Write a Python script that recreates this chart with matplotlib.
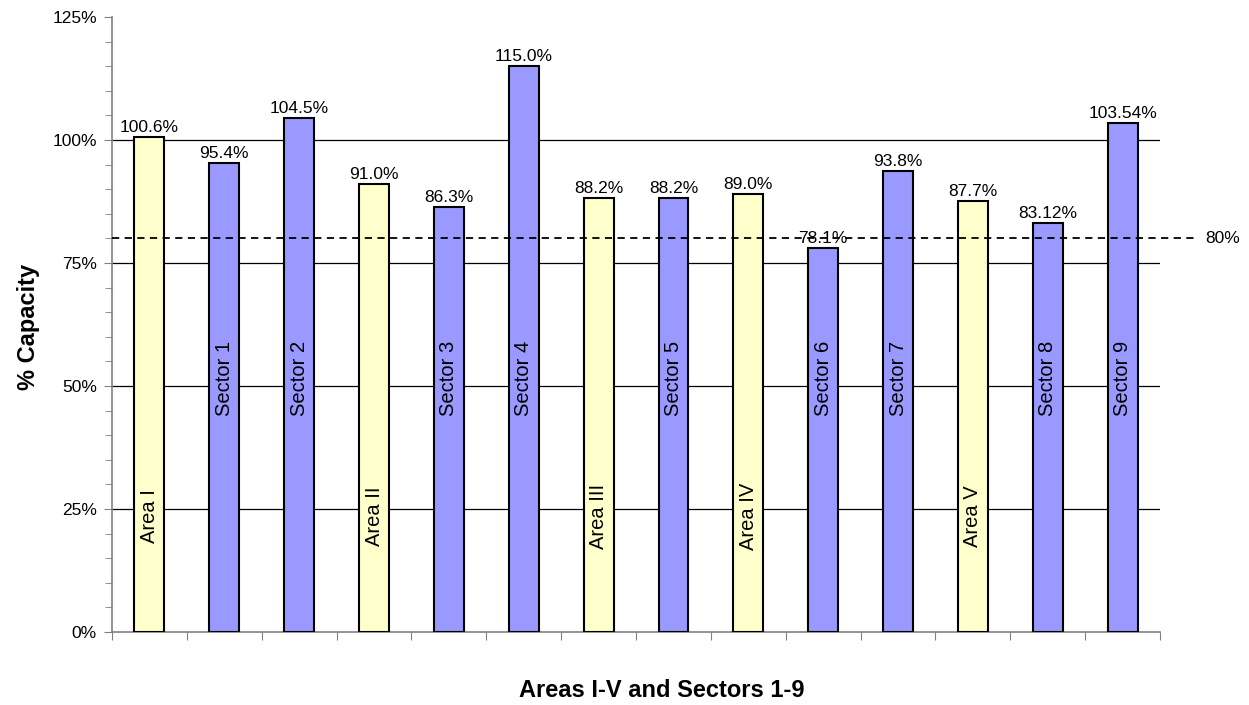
import matplotlib.pyplot as plt
from matplotlib.ticker import MultipleLocator, FuncFormatter

plt.rcParams['font.family'] = ['Liberation Sans', 'DejaVu Sans']

names = ['Area I', 'Sector 1', 'Sector 2', 'Area II', 'Sector 3', 'Sector 4', 'Area III',
         'Sector 5', 'Area IV', 'Sector 6', 'Sector 7', 'Area V', 'Sector 8', 'Sector 9']
capacity = [100.6, 95.4, 104.5, 91.0, 86.3, 115.0, 88.2, 88.2, 89.0, 78.1, 93.8, 87.7, 83.12, 103.54]
value_labels = ['100.6%', '95.4%', '104.5%', '91.0%', '86.3%', '115.0%', '88.2%',
                '88.2%', '89.0%', '78.1%', '93.8%', '87.7%', '83.12%', '103.54%']
target = 80

fig = plt.figure(figsize=(12.49, 7.05), dpi=100)
ax = fig.add_axes([0.0897, 0.1035, 0.8391, 0.8724])

x = range(len(names))
colors = ['#FFFFCC' if n.startswith('Area') else '#9999FF' for n in names]
bars = ax.bar(x, capacity, width=0.4, color=colors, edgecolor='black', linewidth=1.5, zorder=3)

for b, name, lab, v in zip(bars, names, value_labels, capacity):
    cx = b.get_x() + b.get_width() / 2
    ax.text(cx, v + 0.4, lab, ha='center', va='bottom', fontsize=12.5, zorder=4)
    # names sit inside the bars, lower for the areas
    ypos = 23.5 if name.startswith('Area') else 51.5
    ax.text(cx, ypos, name, rotation=90, ha='center', va='center', fontsize=14.5, zorder=4)

# 80% reference line running past the plot edge
ax.plot([-0.5, 13.95], [target, target], ls=(0, (4, 3)), color='black', lw=1.3,
        clip_on=False, zorder=5)
ax.text(14.1, target, '80%', ha='left', va='center', fontsize=12.5)

ax.set_xlim(-0.5, 13.5)
ax.set_ylim(0, 125)
ax.yaxis.set_major_locator(MultipleLocator(25))
ax.yaxis.set_minor_locator(MultipleLocator(5))
ax.yaxis.set_major_formatter(FuncFormatter(lambda v, p: f'{v:.0f}%'))
ax.set_xticks([i - 0.5 for i in range(len(names) + 1)])
ax.set_xticklabels([])
ax.tick_params(axis='y', which='major', length=6, color='#808080', labelsize=12.5, pad=5)
ax.tick_params(axis='y', which='minor', length=5, color='#808080')
ax.tick_params(axis='x', length=6, color='#808080')

for v in [25, 50, 75, 100]:
    ax.axhline(v, color='black', lw=0.9, zorder=1)

for s in ['top', 'right']:
    ax.spines[s].set_visible(False)
for s in ['left', 'bottom']:
    ax.spines[s].set_color('#808080')
    ax.spines[s].set_linewidth(1.2)

fig.text(0.023, 0.5365, '% Capacity', rotation=90, ha='center', va='center',
         fontsize=17, fontweight='bold')
fig.text(0.53, 0.021, 'Areas I-V and Sectors 1-9', ha='center', va='center',
         fontsize=17, fontweight='bold')

fig.savefig('out.png', dpi=100)
